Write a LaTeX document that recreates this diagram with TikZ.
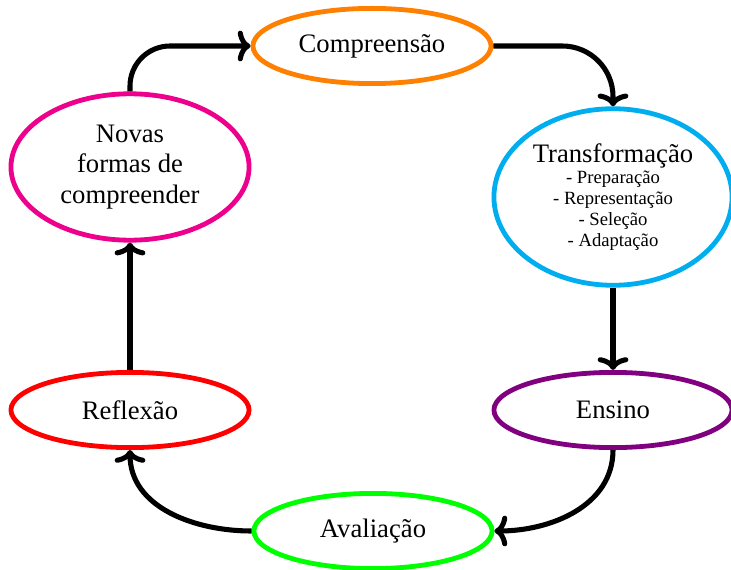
\documentclass[tikz,border=0pt]{standalone}
\usepackage{fontspec}
\setmainfont{Liberation Serif}
\usetikzlibrary{shapes.geometric,arrows.meta}

\definecolor{cOrange}{RGB}{255,128,0}
\definecolor{cCyan}{RGB}{0,174,239}
\definecolor{cPink}{RGB}{236,0,140}
\definecolor{cRed}{RGB}{255,0,0}
\definecolor{cGreen}{RGB}{0,255,0}
\definecolor{cPurple}{RGB}{128,0,128}

\tikzset{
  stage/.style={ellipse, draw, line width=1.8pt, inner sep=0pt,
    minimum width=89.3pt, minimum height=28.2pt, align=center,
    font=\fontsize{10}{11.4}\selectfont},
  conn/.style={line width=1.9pt, -{To[length=4.8pt,width=11.5pt]}},
}

\begin{document}
\begin{tikzpicture}[x=0.375pt, y=-0.375pt]
  \useasboundingbox (0,0) rectangle (731,570);

  % the six stages of the cycle
  \node[stage, draw=cOrange] (C) at (372,46) {Compreensão};
  \node[stage, draw=cCyan, minimum height=66.2pt,
        font=\fontsize{10}{7.9}\selectfont] (T) at (613,197)
    {Transformação\\
     {\scriptsize - Preparação}\\
     {\scriptsize - Representação}\\
     {\scriptsize - Seleção}\\
     {\scriptsize - Adaptação}};
  \node[stage, draw=cPurple] (E) at (613,410) {Ensino};
  \node[stage, draw=cGreen] (A) at (373,531) {Avaliação};
  \node[stage, draw=cRed] (R) at (130,410) {Reflexão};
  \node[stage, draw=cPink, minimum height=54.9pt] (N) at (130,167)
    {Novas\\formas de\\compreender};

  % connectors around the cycle
  \draw[conn, rounded corners=15pt] (N.north) |- (C.west);
  \draw[conn, rounded corners=19pt] (C.east) -| (T.north);
  \draw[conn] (T.south) -- (E.north);
  \draw[conn] (E.south) to[out=-90, in=0] (A.east);
  \draw[conn] (A.west) to[out=180, in=-90] (R.south);
  \draw[conn] (R.north) -- (N.south);
\end{tikzpicture}
\end{document}
